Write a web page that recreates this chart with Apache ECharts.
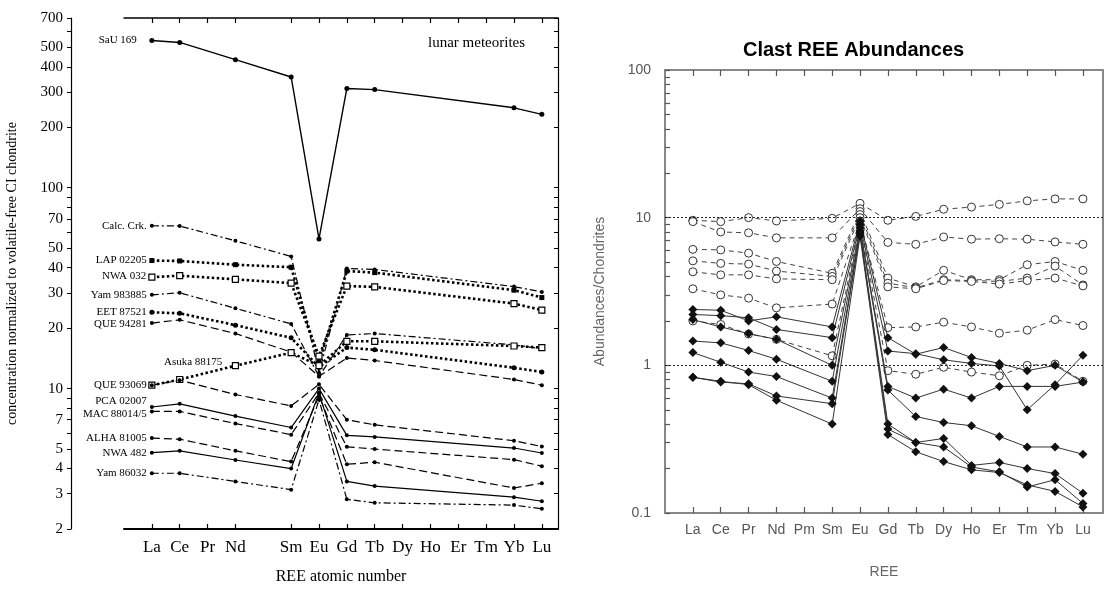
<!DOCTYPE html>
<html>
<head>
<meta charset="utf-8">
<script src="https://cdn.jsdelivr.net/npm/echarts@6/dist/echarts.min.js"></script>
<style>
html,body{margin:0;padding:0;background:#fff;}
#chart{width:1105px;height:590px;}
</style>
</head>
<body>
<div id="chart"></div>
<script>
// ---------- shared ----------
const ALL_ELEMENTS = ['La','Ce','Pr','Nd','Pm','Sm','Eu','Gd','Tb','Dy','Ho','Er','Tm','Yb','Lu'];
const ATOMIC_START = 57;

// ---------- left panel data (lunar meteorites) ----------
const leftElements = ['La','Ce','Nd','Sm','Eu','Gd','Tb','Yb','Lu'];
const leftNames = ['SaU 169','Calc. Crk.','LAP 02205','NWA 032','Yam 983885','EET 87521','QUE 94281',
  'Asuka 88175','QUE 93069','PCA 02007','MAC 88014/5','ALHA 81005','NWA 482','Yam 86032'];
const sau169    = [541, 529, 434, 356, 55.6, 312, 308, 250, 232];
const calcCrk   = [64.7, 64.5, 54.4, 45.5, 12.0, 39.6, 39.2, 32.2, 30.3];
const lap02205  = [43.4, 43.2, 41.4, 40.2, 13.5, 38.5, 37.8, 30.9, 28.4];
const nwa032    = [35.9, 36.5, 35.0, 33.5, 14.5, 32.4, 32.1, 26.5, 24.6];
const yam983885 = [29.3, 30.0, 25.1, 21.0, 11.5, 18.5, 18.8, 16.5, 15.8];
const eet87521  = [24.0, 23.7, 20.7, 17.9, 12.8, 16.0, 15.6, 12.7, 12.1];
const que94281  = [21.2, 22.0, 18.8, 15.2, 11.5, 14.2, 13.8, 11.1, 10.4];
const asuka88175= [10.4, 11.1, 13.0, 15.1, 13.0, 17.2, 17.2, 16.3, 16.0];
const que93069  = [10.4, 11.0, 9.35, 8.2, 10.5, 7.0, 6.6, 5.5, 5.15];
const pca02007  = [8.1, 8.4, 7.3, 6.4, 10.0, 5.85, 5.75, 5.06, 4.78];
const mac88014  = [7.7, 7.7, 6.7, 5.9, 9.5, 5.13, 5.0, 4.43, 4.11];
const alha81005 = [5.67, 5.6, 4.9, 4.33, 9.2, 4.2, 4.3, 3.2, 3.38];
const nwa482    = [4.8, 4.9, 4.41, 4.0, 9.5, 3.45, 3.27, 2.88, 2.75];
const yam86032  = [3.79, 3.79, 3.45, 3.14, 8.8, 2.81, 2.70, 2.63, 2.52];
const leftValues = [sau169, calcCrk, lap02205, nwa032, yam983885, eet87521, que94281,
  asuka88175, que93069, pca02007, mac88014, alha81005, nwa482, yam86032];
const leftTickValues  = [2,3,4,5,6,7,8,9,10,20,30,40,50,60,70,80,90,100,200,300,400,500,600,700];
const leftLabelValues = [2,3,4,5,7,10,20,30,40,50,70,100,200,300,400,500,700];

// ---------- right panel data (Clast REE Abundances) ----------
const rightElements = ['La','Ce','Pr','Nd','Sm','Eu','Gd','Tb','Dy','Ho','Er','Tm','Yb','Lu'];
const clastCircleA = [9.6, 9.4, 10.0, 9.5, 9.9, 12.5, 9.6, 10.2, 11.4, 11.8, 12.3, 13.0, 13.4, 13.4];
const clastCircleB = [9.4, 8.0, 7.9, 7.3, 7.3, 11.5, 6.8, 6.6, 7.4, 7.15, 7.2, 7.15, 6.85, 6.6];
const clastCircleC = [6.1, 6.05, 5.75, 5.05, 4.2, 11.0, 3.9, 3.4, 4.4, 3.8, 3.8, 4.8, 5.05, 4.4];
const clastCircleD = [5.1, 4.9, 4.85, 4.35, 4.0, 10.5, 3.6, 3.35, 3.8, 3.75, 3.7, 3.9, 4.7, 3.5];
const clastCircleE = [4.3, 4.1, 4.1, 3.85, 3.8, 10.0, 3.4, 3.3, 3.75, 3.7, 3.55, 3.75, 3.9, 3.45];
const clastCircleF = [3.3, 3.0, 2.85, 2.45, 2.6, 9.5, 1.8, 1.82, 1.96, 1.82, 1.65, 1.73, 2.04, 1.86];
const clastCircleG = [2.0, 1.89, 1.63, 1.5, 1.16, 9.0, 0.92, 0.87, 0.97, 0.9, 0.85, 1.0, 1.02, 0.78];
const clastDiamondH = [2.39, 2.36, 2.0, 2.13, 1.82, 9.5, 1.54, 1.19, 1.32, 1.13, 1.03, 0.92, 1.0, 0.77];
const clastDiamondI = [2.21, 2.17, 2.1, 1.75, 1.54, 9.0, 1.25, 1.2, 1.09, 1.03, 0.99, 0.5, 0.74, 1.17];
const clastDiamondJ = [2.04, 1.82, 1.64, 1.5, 1.0, 8.5, 0.72, 0.6, 0.69, 0.6, 0.72, 0.72, 0.72, 0.77];
const clastDiamondK = [1.46, 1.42, 1.26, 1.1, 0.78, 8.2, 0.68, 0.45, 0.41, 0.39, 0.33, 0.28, 0.28, 0.25];
const clastDiamondL = [1.22, 1.05, 0.9, 0.84, 0.6, 8.0, 0.40, 0.30, 0.32, 0.21, 0.22, 0.2, 0.185, 0.136];
const clastDiamondM = [0.83, 0.77, 0.75, 0.62, 0.55, 7.8, 0.37, 0.30, 0.28, 0.205, 0.19, 0.15, 0.168, 0.116];
const clastDiamondN = [0.83, 0.78, 0.74, 0.58, 0.40, 7.5, 0.34, 0.26, 0.223, 0.196, 0.188, 0.155, 0.14, 0.11];
const clastCircles  = [clastCircleA, clastCircleB, clastCircleC, clastCircleD, clastCircleE, clastCircleF, clastCircleG];
const clastDiamonds = [clastDiamondH, clastDiamondI, clastDiamondJ, clastDiamondK, clastDiamondL, clastDiamondM, clastDiamondN];
const rightTickValues = [0.1,0.2,0.3,0.4,0.5,0.6,0.7,0.8,0.9,1,2,3,4,5,6,7,8,9,10,20,30,40,50,60,70,80,90,100];
const rightLabelValues = [0.1, 1, 10, 100];
const refLines = [10, 1];

// ---------- helpers ----------
const atomic = el => ATOMIC_START + ALL_ELEMENTS.indexOf(el);
const symOf = v => { const i = Math.round(v) - ATOMIC_START; return ALL_ELEMENTS[i] || ''; };
const leftXTicks = ALL_ELEMENTS.filter(e => e !== 'Pm').map(atomic);
const rightXTicks = ALL_ELEMENTS.map(atomic);

const SERIF = 'Liberation Serif';
const SANS = 'Liberation Sans';
const DASHDOT = [7, 3, 2, 3];
const DASHED = [8, 4];
const DOTTED = [2.5, 2.5];

// styles per left series (index-aligned to leftNames)
const leftStyles = [
  {type:'solid', width:1.4, symbol:'circle', size:5, fill:'#000'},
  {type:DASHDOT, width:1.2, symbol:'circle', size:4, fill:'#000'},
  {type:DOTTED, width:2.6, symbol:'rect', size:5, fill:'#000'},
  {type:DOTTED, width:2.6, symbol:'rect', size:6, fill:'#fff'},
  {type:DASHDOT, width:1.2, symbol:'circle', size:4, fill:'#000'},
  {type:DOTTED, width:2.6, symbol:'circle', size:5, fill:'#000'},
  {type:DASHED, width:1.2, symbol:'circle', size:4, fill:'#000'},
  {type:DOTTED, width:2.6, symbol:'rect', size:6, fill:'#fff'},
  {type:DASHED, width:1.2, symbol:'circle', size:4, fill:'#000'},
  {type:'solid', width:1.2, symbol:'circle', size:4, fill:'#000'},
  {type:DASHED, width:1.2, symbol:'circle', size:4, fill:'#000'},
  {type:DASHED, width:1.2, symbol:'circle', size:4, fill:'#000'},
  {type:'solid', width:1.2, symbol:'circle', size:4, fill:'#000'},
  {type:DASHDOT, width:1.2, symbol:'circle', size:4, fill:'#000'}
];
// label placement: which point carries the name, and its nudge (dx, dy) from the point
const leftLabelPlace = leftNames.map(n => {
  if (n === 'Asuka 88175') return {idx:1, dx:14, dy:-17, align:'center'};
  if (n === 'SaU 169') return {idx:0, dx:-15, dy:0, align:'right'};
  if (n === 'PCA 02007') return {idx:0, dx:-5, dy:-6, align:'right'};
  if (n === 'MAC 88014/5') return {idx:0, dx:-5, dy:3, align:'right'};
  if (n === 'QUE 94281') return {idx:0, dx:-5, dy:1, align:'right'};
  return {idx:0, dx:-5, dy:0, align:'right'};
});

const series = [];
leftNames.forEach((name, si) => {
  const st = leftStyles[si];
  const place = leftLabelPlace[si];
  const half = st.size / 2;
  const data = leftElements.map((el, i) => {
    const item = {value: [atomic(el), leftValues[si][i]]};
    if (i === place.idx) {
      item.label = {show:true, formatter:name,
        position:[half + place.dx, half + place.dy], align:place.align, verticalAlign:'middle',
        fontFamily:SERIF, fontSize:11, color:'#000'};
    }
    return item;
  });
  series.push({
    name, type:'line', xAxisIndex:0, yAxisIndex:0, data,
    symbol: st.symbol, symbolSize: st.size, showSymbol:true,
    itemStyle:{color:st.fill, borderColor:'#000', borderWidth: st.fill === '#fff' ? 1.2 : 0},
    lineStyle:{color:'#000', width:st.width, type:st.type},
    labelLayout:{hideOverlap:false},
    emphasis:{disabled:true}, z:3
  });
});

clastCircles.forEach((vals, si) => {
  const s = {
    name:'circle' + si, type:'line', xAxisIndex:2, yAxisIndex:2,
    data: rightElements.map((el, i) => [atomic(el), vals[i]]),
    symbol:'circle', symbolSize:8,
    itemStyle:{color:'#fff', borderColor:'#333', borderWidth:1},
    lineStyle:{color:'#444', width:1, type:[5,4]},
    emphasis:{disabled:true}, z:3
  };
  if (si === 0) {
    s.markLine = {silent:true, symbol:'none', label:{show:false},
      lineStyle:{color:'#222', width:1, type:[2,2]},
      data: refLines.map(v => ({yAxis:v}))};
  }
  series.push(s);
});
clastDiamonds.forEach((vals, si) => {
  series.push({
    name:'diamond' + si, type:'line', xAxisIndex:2, yAxisIndex:2,
    data: rightElements.map((el, i) => [atomic(el), vals[i]]),
    symbol:'diamond', symbolSize:9,
    itemStyle:{color:'#111'},
    lineStyle:{color:'#333', width:1, type:'solid'},
    emphasis:{disabled:true}, z:4
  });
});

const leftXBase = {type:'value', gridIndex:0, min:56, max:71.58, splitLine:{show:false}};
const rightXBase = {type:'value', gridIndex:1, min:56, max:71.72, splitLine:{show:false}};

const option = {
  animation:false,
  backgroundColor:'#fff',
  title:[
    {text:'Clast REE Abundances', left:738, top:35,
      textStyle:{fontFamily:SANS, fontWeight:'bold', fontSize:20, color:'#000'}},
    {text:'lunar meteorites', left:423, top:31,
      textStyle:{fontFamily:SERIF, fontWeight:'normal', fontSize:15, color:'#000'}}
  ],
  grid:[
    {left:124, top:18, width:434, height:515},
    {left:665, top:70, width:438, height:443}
  ],
  xAxis:[
    Object.assign({}, leftXBase, {
      position:'bottom',
      axisLine:{show:true, lineStyle:{color:'#000', width:2}},
      axisTick:{show:true, inside:true, length:5, lineStyle:{color:'#000', width:1.2}, customValues:leftXTicks},
      axisLabel:{show:true, customValues:leftXTicks, formatter:v => symOf(v),
        fontFamily:SERIF, fontSize:17, color:'#000', margin:10},
      name:'REE atomic number', nameLocation:'middle', nameGap:40,
      nameTextStyle:{fontFamily:SERIF, fontSize:16, color:'#000'}
    }),
    Object.assign({}, leftXBase, {
      position:'top',
      axisLine:{show:true, lineStyle:{color:'#000', width:1.5}},
      axisTick:{show:true, inside:true, length:5, lineStyle:{color:'#000', width:1.2}, customValues:leftXTicks},
      axisLabel:{show:false}
    }),
    Object.assign({}, rightXBase, {
      position:'bottom',
      axisLine:{show:true, lineStyle:{color:'#888', width:2}},
      axisTick:{show:true, inside:true, length:6, lineStyle:{color:'#555', width:1.2}, customValues:rightXTicks},
      axisLabel:{show:true, customValues:rightXTicks, formatter:v => symOf(v),
        fontFamily:SANS, fontSize:14, color:'#555', margin:10},
      name:'REE', nameLocation:'middle', nameGap:52,
      nameTextStyle:{fontFamily:SANS, fontSize:14, color:'#666'}
    }),
    Object.assign({}, rightXBase, {
      position:'top',
      axisLine:{show:true, lineStyle:{color:'#888', width:2}},
      axisTick:{show:true, inside:true, length:6, lineStyle:{color:'#555', width:1.2}, customValues:rightXTicks},
      axisLabel:{show:false}
    })
  ],
  yAxis:[
    {type:'log', gridIndex:0, min:2, max:700, position:'left', offset:53,
      axisLine:{show:true, lineStyle:{color:'#000', width:1.2}},
      axisTick:{show:true, inside:false, length:4, lineStyle:{color:'#000'}, customValues:leftTickValues},
      axisLabel:{show:true, customValues:leftLabelValues, formatter:v => String(v),
        fontFamily:SERIF, fontSize:15, color:'#000', margin:8},
      splitLine:{show:false},
      name:'concentration normalized to volatile-free CI chondrite', nameLocation:'middle', nameGap:52,
      nameRotate:90, nameTextStyle:{fontFamily:SERIF, fontSize:14, color:'#000'}
    },
    {type:'log', gridIndex:0, min:2, max:700, position:'right',
      axisLine:{show:true, lineStyle:{color:'#000', width:1.2}},
      axisTick:{show:true, inside:true, length:4, lineStyle:{color:'#000'}, customValues:leftTickValues},
      axisLabel:{show:false}, splitLine:{show:false}
    },
    {type:'log', gridIndex:1, min:0.1, max:100, position:'left',
      axisLine:{show:true, lineStyle:{color:'#888', width:2}},
      axisTick:{show:true, inside:true, length:5, lineStyle:{color:'#555', width:1.2}, customValues:rightTickValues},
      axisLabel:{show:true, customValues:rightLabelValues, formatter:v => String(v),
        fontFamily:SANS, fontSize:14, color:'#555', margin:14},
      splitLine:{show:false},
      name:'Abundances/Chondrites', nameLocation:'middle', nameGap:58, nameRotate:90,
      nameTextStyle:{fontFamily:SANS, fontSize:14, color:'#666'}
    },
    {type:'log', gridIndex:1, min:0.1, max:100, position:'right',
      axisLine:{show:true, lineStyle:{color:'#888', width:2}},
      axisTick:{show:false}, axisLabel:{show:false}, splitLine:{show:false}
    }
  ],
  series
};
const chart = echarts.init(document.getElementById('chart'), null, {renderer:'canvas'});
chart.setOption(option);
</script>
</body>
</html>
